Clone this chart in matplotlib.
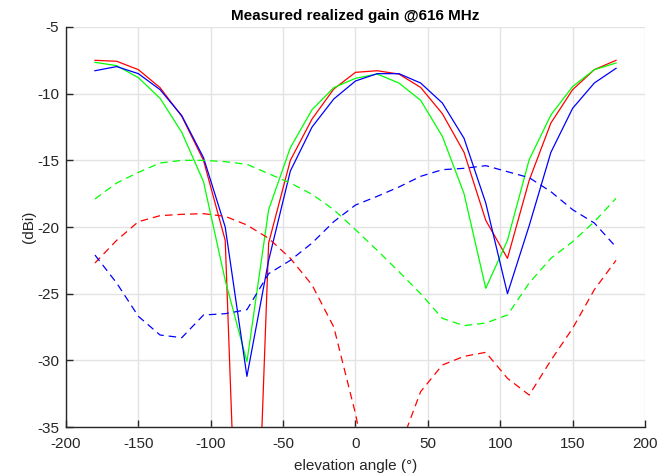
"""
Measured realized gain vs elevation angle
"""

import matplotlib
matplotlib.use('Agg')
import matplotlib.pyplot as plt

angles = list(range(-180, 181, 15))

# solid curves (co-polar)
red_solid = [-7.5, -7.57, -8.2, -9.55, -11.7, -15.0, -21.0, -66.0, -21.2, -15.0, -11.9, -9.65,
             -8.4, -8.28, -8.53, -9.53, -11.5, -14.4, -19.5, -22.35, -16.5, -12.2, -9.7, -8.2, -7.5]
green_solid = [-7.65, -7.9, -8.8, -10.35, -12.9, -16.6, -24.0, -30.1, -18.7, -14.05, -11.2, -9.55,
               -8.85, -8.53, -9.2, -10.5, -13.2, -17.5, -24.6, -21.0, -14.95, -11.6, -9.47, -8.2, -7.7]
blue_solid = [-8.28, -7.97, -8.5, -9.7, -11.65, -14.8, -20.0, -31.2, -22.5, -15.8, -12.5, -10.4,
              -9.05, -8.5, -8.5, -9.2, -10.7, -13.35, -18.2, -25.0, -19.9, -14.4, -11.1, -9.2, -8.1]

# dashed curves (cross-polar)
red_dash = [-22.7, -21.0, -19.6, -19.15, -19.05, -19.0, -19.2, -19.85, -20.85, -22.35, -24.35, -27.5,
            -34.0, -42.0, -36.7, -32.35, -30.35, -29.7, -29.4, -31.35, -32.6, -30.0, -27.6, -24.7, -22.5]
green_dash = [-17.9, -16.7, -15.9, -15.2, -15.0, -15.0, -15.1, -15.3, -16.0, -16.7, -17.55, -18.7,
              -20.2, -21.75, -23.35, -25.0, -26.85, -27.4, -27.2, -26.6, -24.2, -22.35, -21.1, -19.6, -17.85]
blue_dash = [-22.1, -24.2, -26.7, -28.1, -28.3, -26.6, -26.5, -26.2, -23.5, -22.5, -21.2, -19.6,
             -18.35, -17.7, -17.0, -16.2, -15.7, -15.6, -15.4, -15.85, -16.3, -17.35, -18.7, -19.7, -21.5]

plt.rcParams['font.family'] = ['Liberation Sans', 'DejaVu Sans']
plt.rcParams['axes.unicode_minus'] = False

fig = plt.figure(figsize=(6.72, 4.76), dpi=100)
ax = fig.add_axes([0.0982, 0.1029, 0.8616, 0.8404])

lw = 0.9
dash = (0, (6, 4))
ax.plot(angles, red_solid, color='#ff0000', lw=lw)
ax.plot(angles, green_solid, color='#00ff00', lw=lw)
ax.plot(angles, blue_solid, color='#0000ff', lw=lw)
ax.plot(angles, red_dash, color='#ff0000', lw=lw, linestyle=dash)
ax.plot(angles, green_dash, color='#00ff00', lw=lw, linestyle=dash)
ax.plot(angles, blue_dash, color='#0000ff', lw=lw, linestyle=dash)

ax.set_xlim(-200, 200)
ax.set_ylim(-35, -5)
ax.set_xticks(range(-200, 201, 50))
ax.set_yticks(range(-35, -4, 5))
ax.grid(True, color='#e3e3e3', lw=1.0)
ax.set_axisbelow(True)

for side in ('top', 'right'):
    ax.spines[side].set_visible(False)
for side in ('left', 'bottom'):
    ax.spines[side].set_color('#262626')
    ax.spines[side].set_linewidth(1.0)

ax.tick_params(direction='in', length=5, width=1.0, colors='#262626',
               labelsize=11, labelcolor='#262626')
ax.tick_params(axis='x', pad=7)
ax.tick_params(axis='y', pad=5)

ax.set_title('Measured realized gain @616 MHz', fontsize=11, fontweight='bold', pad=5)
ax.set_xlabel('elevation angle (°)', fontsize=11, color='#262626', labelpad=6)
ax.set_ylabel('(dBi)', fontsize=11, color='#262626', labelpad=1)

fig.savefig('out.png', dpi=100)
